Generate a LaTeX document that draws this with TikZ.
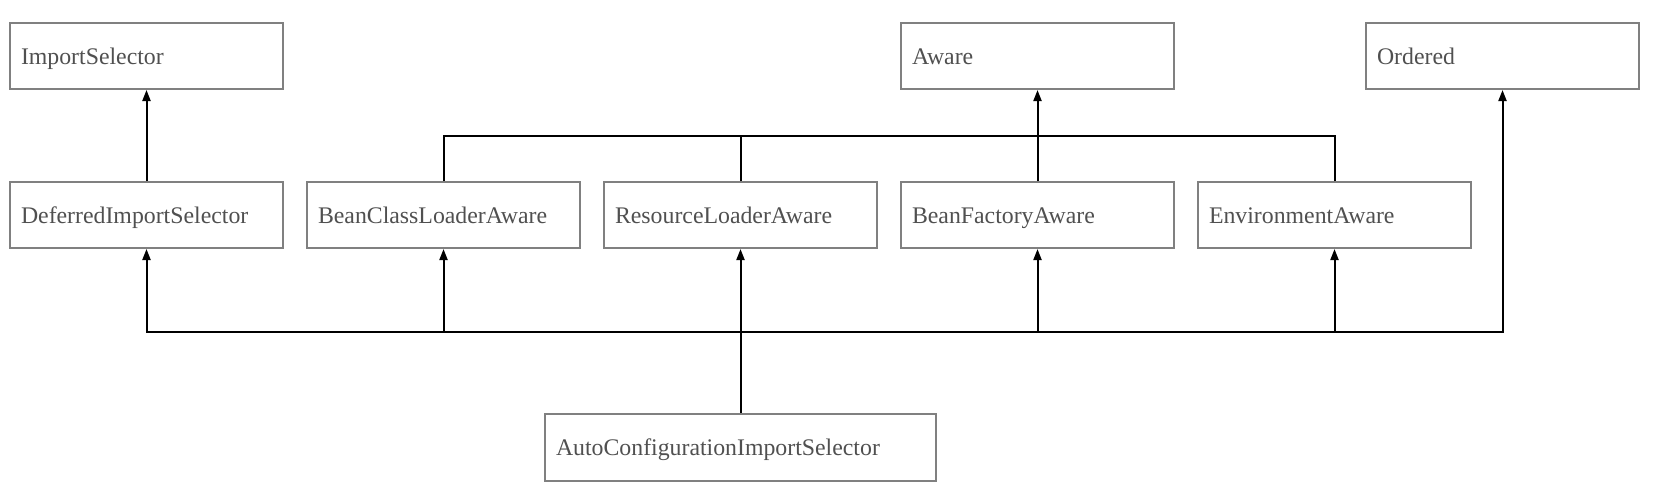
\documentclass[tikz,border=0pt]{standalone}
\usepackage{fontspec}
\setmainfont{Liberation Serif}
\usetikzlibrary{arrows.meta}
\definecolor{boxline}{HTML}{808080}
\definecolor{boxtext}{HTML}{505050}
\tikzset{
  cls/.style={draw=boxline, line width=2pt, rectangle, minimum width=273pt, minimum height=66pt,
    text width=251pt, align=left, inner xsep=11pt, inner ysep=0pt, text height=16pt, text depth=0pt,
    text=boxtext, font=\fontsize{23.8}{28}\selectfont},
  conn/.style={line width=2pt, black},
  arr/.style={conn, -{Triangle[length=11pt,width=8pt]}}
}
\begin{document}
\begin{tikzpicture}[x=1pt,y=-1pt]
\useasboundingbox (0,0) rectangle (1654,496);
\node[cls] (IS) at (146.5,56) {ImportSelector};
\node[cls] (Aware) at (1037.5,56) {Aware};
\node[cls] (Ord) at (1502.5,56) {Ordered};
\node[cls] (DIS) at (146.5,215) {DeferredImportSelector};
\node[cls] (BCLA) at (443.5,215) {BeanClassLoaderAware};
\node[cls] (RLA) at (740.5,215) {ResourceLoaderAware};
\node[cls] (BFA) at (1037.5,215) {BeanFactoryAware};
\node[cls] (EA) at (1334.5,215) {EnvironmentAware};
\node[cls, minimum width=391pt, text width=369pt, minimum height=67pt] (ACIS) at (740.5,447.5) {AutoConfigurationImportSelector};
\coordinate (top) at (1037.5,136);
\coordinate (bus) at (740.5,332);
% top bus
\draw[arr] (DIS.north) -- (IS.south);
\draw[conn] (BCLA.north) |- (top);
\draw[conn] (RLA.north) |- (top);
\draw[conn] (EA.north) |- (top);
\draw[arr] (BFA.north) -- (Aware.south);
% bottom bus
\draw[arr] (ACIS.north) -- (RLA.south);
\draw[arr] (bus) -| (DIS.south);
\draw[arr] (bus) -| (BCLA.south);
\draw[arr] (bus) -| (BFA.south);
\draw[arr] (bus) -| (EA.south);
\draw[arr] (bus) -| (Ord.south);
\end{tikzpicture}
\end{document}
